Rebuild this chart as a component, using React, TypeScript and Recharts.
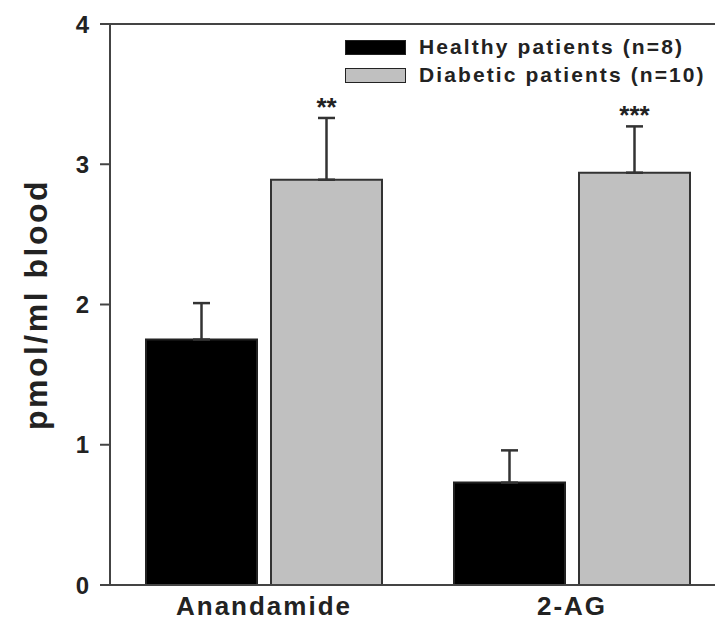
import React from "react";
import { Bar, BarChart, ErrorBar, LabelList, Legend, ReferenceLine, XAxis, YAxis } from "recharts";

const categories = ["Anandamide", "2-AG"];
const healthyMeans = [1.75, 0.73];
const healthyErrors = [0.26, 0.23];
const diabeticMeans = [2.89, 2.94];
const diabeticErrors = [0.44, 0.33];
const diabeticStars = ["**", "***"];
const yTicks = [0, 1, 2, 3, 4];

const data = categories.map((name, i) => ({
  name,
  healthy: healthyMeans[i],
  healthyErr: [0, healthyErrors[i]],
  diabetic: diabeticMeans[i],
  diabeticErr: [0, diabeticErrors[i]],
  stars: diabeticStars[i],
}));

const FONT = "Arial, 'Liberation Sans', sans-serif";

// stars sit just above the error bar cap
function StarLabel(props: any) {
  const { x, y, width, height, value, index } = props;
  const perUnit = height / diabeticMeans[index];
  const top = y - diabeticErrors[index] * perUnit;
  return (
    <text x={x + width / 2} y={top - 2} textAnchor="middle" fontFamily={FONT} fontWeight="bold" fontSize={26} fill="#222">
      {value}
    </text>
  );
}

function LegendBox() {
  const rows = [
    { label: "Healthy patients (n=8)", fill: "#000" },
    { label: "Diabetic patients (n=10)", fill: "#c0c0c0" },
  ];
  return (
    <div style={{ fontFamily: FONT }}>
      {rows.map((r) => (
        <div key={r.label} style={{ display: "flex", alignItems: "center", height: 28 }}>
          <div style={{ width: 59, height: 13, background: r.fill, border: "1.5px solid #222", marginRight: 13, flexShrink: 0 }} />
          <span style={{ fontSize: 21, fontWeight: "bold", color: "#222", letterSpacing: 2.1, whiteSpace: "nowrap" }}>{r.label}</span>
        </div>
      ))}
    </div>
  );
}

export default function App() {
  return (
    <div style={{ position: "fixed", left: 0, top: 0, width: 715, height: 622, overflow: "hidden", background: "#fff" }}>
      <BarChart
        width={726}
        height={622}
        data={data}
        margin={{ top: 24, right: 0, left: 0, bottom: 0 }}
        barGap={14}
        barCategoryGap={36}
      >
        <XAxis
          dataKey="name"
          height={37}
          stroke="#444"
          strokeWidth={2}
          tickLine={false}
          tick={{ fontFamily: FONT, fontWeight: "bold", fontSize: 26, fill: "#222", letterSpacing: 2 }}
          tickMargin={6}
        />
        <YAxis
          domain={[0, 4]}
          ticks={yTicks}
          width={110}
          stroke="#444"
          strokeWidth={2}
          tickSize={10}
          tickMargin={11}
          tick={{ fontFamily: FONT, fontWeight: "bold", fontSize: 24, fill: "#222" }}
          label={{
            value: "pmol/ml blood",
            angle: -90,
            position: "insideLeft",
            offset: 36,
            style: { fontFamily: FONT, fontWeight: "bold", fontSize: 32, fill: "#222", textAnchor: "middle", letterSpacing: 2.5 },
          }}
        />
        <ReferenceLine y={4} stroke="#444" strokeWidth={2} />
        <Legend
          layout="horizontal"
          verticalAlign="middle"
          align="center"
          wrapperStyle={{ top: 33, left: 345, width: 380, height: 56 }}
          content={() => <LegendBox />}
        />
        <Bar dataKey="healthy" fill="#000" stroke="#222" strokeWidth={2} barSize={111} isAnimationActive={false}>
          <ErrorBar dataKey="healthyErr" direction="y" width={8.5} stroke="#333" strokeWidth={2.5} />
        </Bar>
        <Bar dataKey="diabetic" fill="#c0c0c0" stroke="#333" strokeWidth={2} barSize={111} isAnimationActive={false}>
          <ErrorBar dataKey="diabeticErr" direction="y" width={8.5} stroke="#333" strokeWidth={2.5} />
          <LabelList dataKey="stars" content={<StarLabel />} />
        </Bar>
      </BarChart>
    </div>
  );
}
